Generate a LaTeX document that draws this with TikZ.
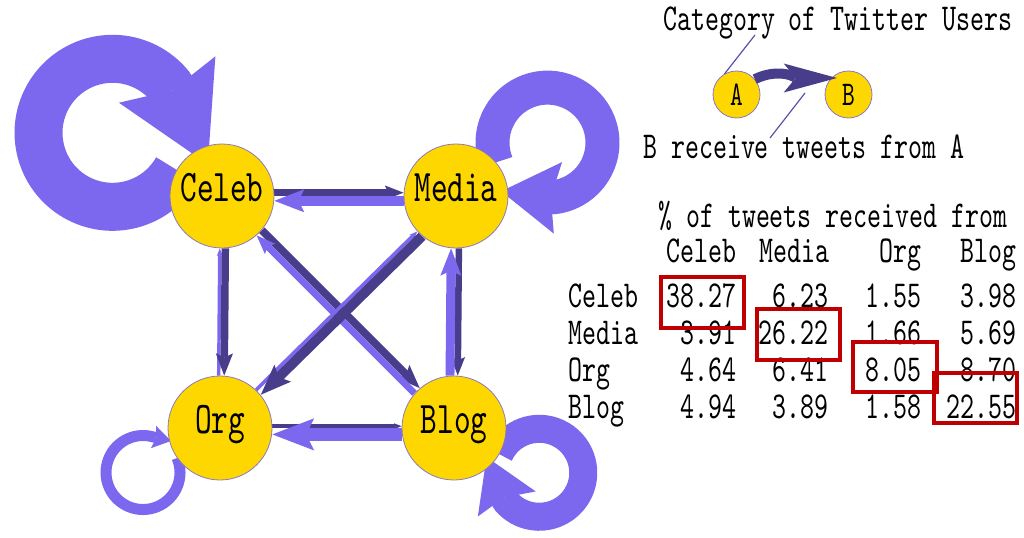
\documentclass[tikz,border=0pt]{standalone}
\usepackage{fontspec}
\newfontfamily\cfont{lmmono10-regular.otf}[FakeStretch=0.70]
\usetikzlibrary{arrows.meta,calc}
\pgfdeclarelayer{bg}
\pgfsetlayers{bg,main}
\definecolor{lightedge}{RGB}{123,104,238}
\definecolor{darkedge}{RGB}{72,61,139}
\definecolor{nodefill}{RGB}{255,215,0}
\definecolor{nodeline}{RGB}{140,120,190}
\definecolor{boxred}{RGB}{192,0,0}
\definecolor{leadcol}{RGB}{90,80,170}
\begin{document}
\begin{tikzpicture}[x=0.75pt,y=0.75pt,
  user/.style={circle, fill=nodefill, draw=nodeline, line width=0.6pt, minimum size=78pt, inner sep=0pt, text height=15pt, text depth=7.5pt, font=\cfont\fontsize{34}{34}\selectfont},
  small/.style={circle, fill=nodefill, draw=nodeline, line width=0.6pt, minimum size=35.25pt, inner sep=0pt, font=\cfont\fontsize{26}{26}\selectfont},
  lbl/.style={inner sep=0pt, font=\cfont\fontsize{28.5}{28.5}\selectfont},
  hl/.style={draw=boxred, line width=3pt},
  lite/.style={draw=lightedge},
  dark/.style={draw=darkedge},
  lp/.style={draw=lightedge, line join=round},
  leaderline/.style={draw=leadcol, line width=0.9pt},
]
\useasboundingbox (0,0) rectangle (1024,537);

% main graph nodes
\node[user] (Celeb) at (222,341) {Celeb};
\node[user] (Media) at (456,341) {Media};
\node[user] (Org) at (220,109) {Org};
\node[user] (Blog) at (454,109) {Blog};

\begin{pgfonlayer}{bg}
% Celeb--Blog
\draw[dark, line width=5.9pt, transform canvas={shift={(2.8,2.8)}}, -{Stealth[length=17.8pt,width=13.7pt,inset=3.3pt,line width=0pt]}] (Celeb) -- (Blog);
\draw[lite, line width=5.0pt, transform canvas={shift={(-2.4,-2.4)}}, -{Stealth[length=14.3pt,width=11pt,inset=2.7pt,line width=0pt]}] (Blog) -- (Celeb);
% Media--Org
\draw[lite, line width=2.7pt, transform canvas={shift={(-1.3,1.3)}}, -{Stealth[length=6pt,width=4.6pt,inset=1.1pt,line width=0pt]}] (Org) -- (Media);
\draw[dark, line width=7.4pt, transform canvas={shift={(3.4,-3.5)}}, -{Stealth[length=23.1pt,width=17.8pt,inset=4.3pt,line width=0pt]}] (Media) -- (Org);
% Celeb--Media
\draw[dark, line width=4.9pt, transform canvas={shift={(0,3.3)}}, -{Stealth[length=14.1pt,width=10.9pt,inset=2.6pt,line width=0pt]}] (Celeb) -- (Media);
\draw[lite, line width=7.2pt, transform canvas={shift={(0,-4.8)}}, -{Stealth[length=22.4pt,width=17.3pt,inset=4.2pt,line width=0pt]}] (Media) -- (Celeb);
% Celeb--Org
\draw[lite, line width=2.6pt, transform canvas={shift={(-1.75,0)}}, -{Stealth[length=5.6pt,width=4.3pt,inset=1pt,line width=0pt]}] (Org) -- (Celeb);
\draw[dark, line width=5.6pt, transform canvas={shift={(3.75,0)}}, -{Stealth[length=16.7pt,width=12.9pt,inset=3.1pt,line width=0pt]}] (Celeb) -- (Org);
% Media--Blog
\draw[dark, line width=4.9pt, transform canvas={shift={(3.3,0)}}, -{Stealth[length=14pt,width=10.8pt,inset=2.6pt,line width=0pt]}] (Media) -- (Blog);
\draw[lite, line width=6.7pt, transform canvas={shift={(-4.45,0)}}, -{Stealth[length=20.5pt,width=15.8pt,inset=3.8pt,line width=0pt]}] (Blog) -- (Media);
% Org--Blog
\draw[dark, line width=2.7pt, transform canvas={shift={(0,1.8)}}, -{Stealth[length=5.7pt,width=4.4pt,inset=1.1pt,line width=0pt]}] (Org) -- (Blog);
\draw[lite, line width=9.6pt, transform canvas={shift={(0,-6.4)}}, -{Stealth[length=31.3pt,width=24.1pt,inset=5.9pt,line width=0pt]}] (Blog) -- (Org);
% self loops
\draw[lp, line width=36pt, -{Stealth[length=70.5pt,width=80.3pt,inset=9pt,line width=0pt]}] (Celeb.150) arc[start angle=-30, end angle=-322, radius=74] -- ++(37,-77);
\draw[lp, line width=25.5pt, -{Stealth[length=42.8pt,width=54pt,inset=5.3pt,line width=0pt]}] (Media.40) arc[start angle=201, end angle=-84, radius=55] -- ++(-52,6);
\draw[lp, line width=21pt, -{Stealth[length=38.3pt,width=47.3pt,inset=5.3pt,line width=0pt]}] (Blog.-30) arc[start angle=155, end angle=-140, radius=44] -- ++(-19,44);
\draw[lp, line width=8.25pt, -{Stealth[length=13.5pt,width=17.3pt,inset=2.3pt,line width=0pt]}] (Org.215) arc[start angle=23, end angle=-285, radius=37] -- ++(18.4,-4.2);
\end{pgfonlayer}

% legend
\node[lbl, anchor=base west] (cat) at (663,507) {Category of Twitter Users};
\node[lbl, anchor=base west] (recv) at (643,379) {B receive tweets from A};
\node[small] (A) at (736.5,442.5) {A};
\node[small] (B) at (848.5,442.5) {B};
\coordinate (Btip) at (837,459);
\draw[darkedge, line width=7.5pt, -{Stealth[length=40pt,width=21.75pt,inset=9pt,line width=0pt]}] (A.40) .. controls +(25,12) and +(-40,0) .. (Btip);
\coordinate (c1) at (755,502);
\coordinate (c2) at (805,444);
\coordinate (c3) at (770,399);
\draw[leaderline] (c1) -- (A.120);
\draw[leaderline] (c2) -- (c3);

% table
\node[lbl, anchor=base west] (ttl) at (658,310) {\% of tweets received from};
\node[lbl, anchor=base east] (h1) at (737,275) {Celeb};
\node[lbl, anchor=base east] (h2) at (830,275) {Media};
\node[lbl, anchor=base east] (h3) at (922,275) {Org};
\node[lbl, anchor=base east] (h4) at (1017,275) {Blog};

\node[lbl, anchor=base west] (r1) at (568,230) {Celeb};
\node[lbl, anchor=base west] (r2) at (568,193) {Media};
\node[lbl, anchor=base west] (r3) at (568,156) {Org};
\node[lbl, anchor=base west] (r4) at (568,119) {Blog};

\node[lbl, anchor=base east] (v11) at (737,230) {38.27};
\node[lbl, anchor=base east] (v12) at (829,230) {6.23};
\node[lbl, anchor=base east] (v13) at (922,230) {1.55};
\node[lbl, anchor=base east] (v14) at (1017,230) {3.98};
\node[lbl, anchor=base east] (v21) at (737,193) {3.91};
\node[lbl, anchor=base east] (v22) at (829,193) {26.22};
\node[lbl, anchor=base east] (v23) at (922,193) {1.66};
\node[lbl, anchor=base east] (v24) at (1017,193) {5.69};
\node[lbl, anchor=base east] (v31) at (737,156) {4.64};
\node[lbl, anchor=base east] (v32) at (829,156) {6.41};
\node[lbl, anchor=base east] (v33) at (922,156) {8.05};
\node[lbl, anchor=base east] (v34) at (1017,156) {8.70};
\node[lbl, anchor=base east] (v41) at (737,119) {4.94};
\node[lbl, anchor=base east] (v42) at (829,119) {3.89};
\node[lbl, anchor=base east] (v43) at (922,119) {1.58};
\node[lbl, anchor=base east] (v44) at (1017,119) {22.55};

% highlight boxes
\draw[hl] (661,260) rectangle (744,209);
\draw[hl] (757,228) rectangle (840,177);
\draw[hl] (853,195) rectangle (937,145);
\draw[hl] (934,164) rectangle (1017,114);
\end{tikzpicture}
\end{document}
